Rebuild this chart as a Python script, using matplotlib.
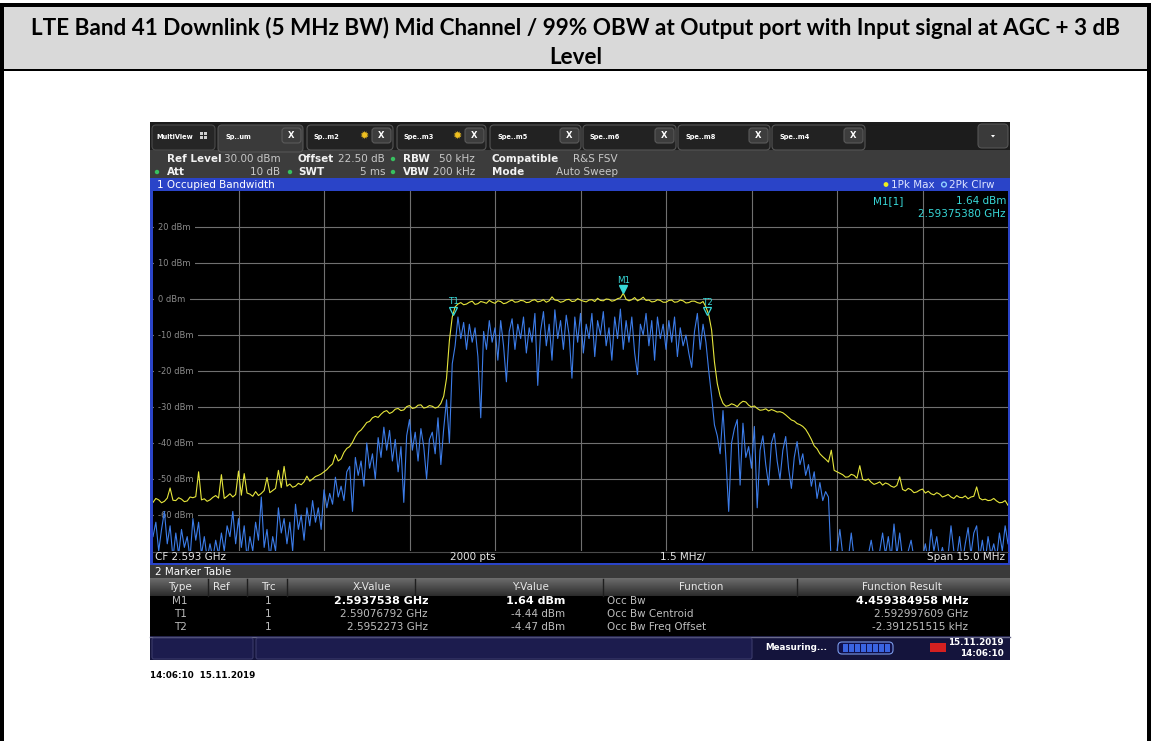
import numpy as np
import matplotlib
matplotlib.use("Agg")
import matplotlib.pyplot as plt
from matplotlib.patches import Rectangle, FancyBboxPatch, Circle, Polygon
from matplotlib.colors import LinearSegmentedColormap
from matplotlib.transforms import offset_copy

# ---- data ----
title_lines = ["LTE Band 41 Downlink (5 MHz BW) Mid Channel / 99% OBW at Output port with Input signal at AGC + 3 dB",
               "Level"]

cf_ghz = 2.593
span_mhz = 15.0
ref_level = 30
bottom_level = -70
level_ticks = [20, 10, 0, -10, -20, -30, -40, -50, -60]

# trace 1 (1Pk Max, yellow), dBm, evenly spaced over the span
trace1 = [
    -56.5, -55.4, -55.8, -56.6, -56.2, -55.3, -52.5, -55.9, -56.0, -55.2,
    -55.6, -56.3, -56.1, -55.0, -55.2, -54.9, -48.0, -55.8, -55.5, -56.2,
    -55.8, -55.1, -54.6, -55.3, -48.8, -55.4, -54.8, -54.1, -55.0, -54.3,
    -47.8, -54.5, -48.5, -53.9, -54.2, -54.8, -53.5, -54.6, -54.0, -53.2,
    -49.6, -53.8, -53.2, -52.6, -47.6, -52.4, -46.5, -52.0, -51.4, -52.3,
    -52.0, -51.2, -51.6, -50.8, -49.2, -50.6, -50.0, -49.3, -49.0, -48.6,
    -48.0, -47.4, -46.5, -45.8, -43.2, -45.0, -44.4, -42.6, -41.5, -41.0,
    -39.8, -38.2, -37.0, -36.4, -35.4, -34.3, -34.0, -33.0, -32.6, -32.9,
    -32.0, -31.3, -31.0, -31.8, -31.4, -30.6, -30.4, -31.0, -30.8, -29.9,
    -29.6, -30.4, -30.2, -29.5, -29.4, -30.3, -30.1, -29.6, -29.8, -30.3,
    -30.0, -29.0, -27.0, -22.0, -11.5, -5.0, -2.2, -1.4, -1.0, -1.6,
    -1.4, -0.9, -0.6, -1.5, -1.3, -0.7, -0.9, -1.2, -0.4, -0.9,
    -1.2, -0.5, -0.7, -1.3, -1.1, -0.6, -0.3, -0.9, -0.8, -0.4,
    -0.5, -1.0, -0.9, -0.4, -0.2, -0.8, -0.6, -0.2, -0.9, -0.5,
    0.6, -0.3, -0.4, -0.9, -0.7, -0.2, -0.1, -0.7, -0.6, 0.1,
    -0.3, -0.6, -0.8, -0.3, -0.2, -0.7, 0.2, -0.4, -0.5, 0.0,
    -0.1, -0.6, -0.4, 0.1, 0.3, 1.6, -0.1, -0.5, -0.2, 0.4,
    -0.5, -0.1, 0.5, -0.4, -0.3, -0.8, -0.7, -0.2, -0.4, -0.9,
    -0.9, -0.4, -0.3, -0.9, -0.8, -0.3, -0.5, -1.1, -1.0, -0.6,
    -0.6, -1.0, -1.2, -0.7, -2.2, -4.4, -8.6, -17.5, -23.5, -27.0,
    -29.0, -29.8, -29.6, -29.1, -29.4, -29.9, -29.0, -28.4, -28.6, -29.5,
    -30.0, -29.7, -30.4, -30.9, -30.8, -30.5, -31.1, -30.7, -31.0, -31.4,
    -31.3, -31.6, -32.2, -32.9, -33.6, -33.9, -34.6, -34.9, -35.4, -36.2,
    -37.5, -39.0, -40.8, -41.6, -43.0, -43.8, -44.5, -45.3, -42.0, -47.6,
    -48.0, -48.4, -48.8, -49.5, -49.4, -48.7, -49.0, -49.8, -46.3, -50.1,
    -50.4, -50.0, -50.9, -51.5, -51.2, -50.8, -51.7, -51.1, -51.4, -52.0,
    -52.3, -51.8, -49.4, -52.9, -53.3, -52.6, -53.0, -53.8, -53.6, -53.1,
    -52.8, -53.9, -53.4, -54.1, -54.4, -53.8, -54.2, -55.0, -54.7, -54.3,
    -55.0, -55.4, -54.6, -55.1, -55.2, -54.7, -55.5, -55.0, -54.8, -52.2,
    -55.3, -55.8, -55.6, -56.0, -55.9, -55.4, -56.1, -56.6, -56.5, -56.0,
    -57.3]

# trace 2 (2Pk Clrw, blue), dBm, evenly spaced over the span
trace2 = [
    -66, -62, -70, -64, -59, -68, -63, -72, -65, -71,
    -64, -69, -66, -72, -61, -67, -62, -71, -66, -72,
    -68, -72, -67, -71, -65, -70, -63, -66, -59, -68,
    -61, -69, -63, -72, -66, -70, -62, -67, -55, -69,
    -64, -72, -66, -70, -58, -65, -61, -68, -62, -70,
    -57, -64, -60, -67, -58, -63, -56, -62, -58, -64,
    -53, -58, -54, -57, -49.5, -55, -52, -56, -48, -46.5,
    -59, -44, -49, -45, -52, -40, -47, -43, -50, -38.5,
    -44, -35.6, -42, -36.5, -45, -39, -48, -41, -56.5, -38,
    -33.5, -42, -37, -45, -36, -41, -50, -39, -37, -43,
    -33, -46, -36, -28, -40, -18, -13, -5, -11, -6.5,
    -14, -7, -12, -8, -16, -33, -9, -14, -6, -12,
    -8, -17, -6, -13, -23, -9, -5.5, -14, -7, -11,
    -5, -15, -8, -12, -4, -24, -9, -3.5, -13, -7,
    -17, -3, -11, -6, -14, -4.5, -10, -22, -5, -12,
    -4, -15, -7, -11, -4, -16, -6, -10, -3.5, -13,
    -8, -17, -5, -11, -2.8, -14, -6, -12, -5, -15,
    -21, -7, -10, -4, -13, -6, -17, -5, -11, -7,
    -14, -6, -12, -5, -16, -8, -13, -10, -15, -19,
    -9, -4, -14, -7, -12, -20, -27, -35, -38, -43,
    -31, -44, -59, -40, -36, -33.5, -51.7, -34.5, -44, -41,
    -47, -35.4, -58, -42, -38, -46, -51.7, -40, -37.3, -45,
    -50, -42, -38.2, -47, -52.6, -44, -39.6, -46, -43, -49,
    -46, -52, -48, -55.4, -51, -56, -53.5, -55, -74, -72,
    -70, -64, -71, -73, -72, -65, -72, -74, -73, -72,
    -74, -71, -67, -72, -74, -70, -65, -71, -66, -72,
    -62.5, -71, -65, -72, -74, -70, -67, -72, -74, -71,
    -72, -68, -73, -64, -70, -66, -72, -69, -73, -71,
    -63, -70, -72, -66, -73, -68, -63.5, -71, -65, -63,
    -72, -67, -73, -66, -71, -68, -72, -65, -70, -63,
    -68]

marker_names = ["M1", "T1", "T2"]
marker_freq_ghz = [2.5937538, 2.59076792, 2.5952273]
marker_level = [1.64, -4.44, -4.47]
marker_x_text = ["2.5937538 GHz", "2.59076792 GHz", "2.5952273 GHz"]
marker_y_text = ["1.64 dBm", "-4.44 dBm", "-4.47 dBm"]
functions = ["Occ Bw", "Occ Bw Centroid", "Occ Bw Freq Offset"]
results = ["4.459384958 MHz", "2.592997609 GHz", "-2.391251515 kHz"]

tab_names = ["Sp..um", "Sp..m2", "Spe..m3", "Spe..m5", "Spe..m6", "Spe..m8", "Spe..m4"]
stamp = "14:06:10  15.11.2019"

# ---- figure, pixel canvas ----
W, H = 1152, 741
fig = plt.figure(figsize=(W / 100, H / 100), dpi=100)
bg = fig.add_axes([0, 0, 1, 1])
bg.set_xlim(0, W)
bg.set_ylim(H, 0)
bg.axis("off")

UI = "DejaVu Sans"


def rect(x0, y0, x1, y1, fc, ec="none", lw=0, z=1):
    bg.add_patch(Rectangle((x0, y0), x1 - x0, y1 - y0, fc=fc, ec=ec, lw=lw, zorder=z))


def rbox(x0, y0, x1, y1, fc, ec="none", lw=0.8, r=4, z=2):
    bg.add_patch(FancyBboxPatch((x0, y0), x1 - x0, y1 - y0,
                                boxstyle=f"round,pad=0,rounding_size={r}",
                                fc=fc, ec=ec, lw=lw, zorder=z))


def txt(x, y, s, size=7.5, color="white", ha="left", weight="normal", z=5):
    bg.text(x, y, s, fontsize=size, color=color, ha=ha, va="center",
            fontweight=weight, family=UI, zorder=z)


# title cell
rect(0, 3, 1151, 71, "#d9d9d9")
rect(0, 3, 1151, 7, "black")
rect(0, 69, 1151, 71, "black")
rect(0, 3, 4, H, "black")
rect(1147, 3, 1151, H, "black")
t1 = bg.text(W / 2, 28, title_lines[0], fontsize=14, fontweight="bold", family="Lato",
             ha="center", va="center", color="black")
t2 = bg.text(W / 2, 57, title_lines[1], fontsize=14, fontweight="bold", family="Lato",
             ha="center", va="center", color="black")
fig.canvas.draw()
fs = 14 * 1100 / t1.get_window_extent().width
t1.set_fontsize(fs)
t2.set_fontsize(fs)

# tab bar
rect(150, 122, 1010, 150, "#1c1c1c")
rbox(152, 125, 215, 150, "#262626", ec="#4a4a4a")
txt(156, 137, "MultiView", size=4.8, weight="bold")
for dx in (0, 4):
    for dy in (0, 4):
        rect(200 + dx, 132 + dy, 203 + dx, 135 + dy, "#d0d0d0", z=3)
tab_start = [218, 307, 397, 490, 583, 678, 772]
tab_end = [305, 395, 488, 583, 678, 772, 867]
for i, name in enumerate(tab_names):
    x0, x1 = tab_start[i], tab_end[i]
    fc = "#3a3a3a" if i == 0 else "#222222"
    rbox(x0, 125, x1 - 2, 152 if i == 0 else 150, fc, ec="#555555")
    txt(x0 + 7, 137, name, size=4.8, weight="bold")
    rbox(x1 - 23, 128, x1 - 4, 143, "#3d3d3d", ec="#5a5a5a", r=3, z=3)
    txt(x1 - 13.5, 135.5, "X", size=6, weight="bold", ha="center")
    if name in ("Sp..m2", "Spe..m3"):
        txt(x1 - 31, 136, "\u2739", size=8, color="#f0c020", ha="center")
rbox(978, 124, 1008, 148, "#3a3a3a", ec="#555555")
bg.add_patch(Polygon([[991, 135], [995, 135], [993, 137.5]], closed=True, fc="white", zorder=4))

# settings bar
rect(150, 150, 1010, 178, "#3c3c3c")
green = "#38c060"
for cx, cy in [(393, 159), (157, 172), (290, 172), (393, 172)]:
    bg.add_patch(Circle((cx, cy), 2.2, fc=green, ec="none", zorder=4))
lab, val = "#f2f2f2", "#c8c8c8"
txt(167, 159, "Ref Level", weight="bold", color=lab)
txt(224, 159, "30.00 dBm", color=val)
txt(298, 159, "Offset", weight="bold", color=lab)
txt(385, 159, "22.50 dB", color=val, ha="right")
txt(403, 159, "RBW", weight="bold", color=lab)
txt(475, 159, "50 kHz", color=val, ha="right")
txt(492, 159, "Compatible", weight="bold", color=lab)
txt(618, 159, "R&S FSV", color=val, ha="right")
txt(167, 172, "Att", weight="bold", color=lab)
txt(280, 172, "10 dB", color=val, ha="right")
txt(298, 172, "SWT", weight="bold", color=lab)
txt(385, 172, "5 ms", color=val, ha="right")
txt(403, 172, "VBW", weight="bold", color=lab)
txt(475, 172, "200 kHz", color=val, ha="right")
txt(492, 172, "Mode", weight="bold", color=lab)
txt(618, 172, "Auto Sweep", color=val, ha="right")

# window frame and title bar
blue_ui = "#2a44c8"
rect(150, 178, 1010, 191, blue_ui)
rect(150, 191, 153, 565, blue_ui)
rect(1008, 191, 1010, 565, blue_ui)
rect(150, 563, 1010, 565, blue_ui)
txt(157, 184.5, "1 Occupied Bandwidth", size=7.5)
bg.add_patch(Circle((886, 184.5), 2.4, fc="#f0f020", ec="none", zorder=4))
txt(891, 184.5, "1Pk Max", size=7.5, color="#dde4ff")
bg.add_patch(Circle((944, 184.5), 2.4, fc="none", ec="#8fd0ff", lw=1, zorder=4))
txt(949, 184.5, "2Pk Clrw", size=7.5, color="#dde4ff")

# bottom strip under the diagram
rect(153, 551, 1008, 563, "black")
bg.plot([153, 1008], [551.5, 551.5], color="#4a4a4a", lw=0.8, zorder=2)
txt(155, 557, f"CF {cf_ghz:.3f} GHz", size=7.5, color="#e6e6e6")
txt(450, 557, "2000 pts", size=7.5, color="#e6e6e6")
txt(660, 557, f"{span_mhz / 10:.1f} MHz/", size=7.5, color="#e6e6e6")
txt(1005, 557, f"Span {span_mhz:.1f} MHz", size=7.5, color="#e6e6e6", ha="right")

# marker table
rect(150, 565, 1010, 578, "#3a3a3a")
txt(155, 572, "2 Marker Table", size=7.5)
hdr = LinearSegmentedColormap.from_list("hdr", ["#6c6c6c", "#2c2c2c"])
bg.imshow(np.linspace(0, 1, 30).reshape(-1, 1), cmap=hdr, aspect="auto",
          extent=[150, 1010, 596, 578], zorder=1)
bg.set_xlim(0, W)
bg.set_ylim(H, 0)
for sx in [208, 247, 287, 415, 603, 797]:
    bg.plot([sx, sx], [579, 596], color="#1e1e1e", lw=1, zorder=2)
rect(150, 596, 1010, 636, "black")
hc = "#e8e8e8"
for x, s in [(180, "Type"), (221, "Ref"), (268, "Trc"), (372, "X-Value"),
             (530, "Y-Value"), (701, "Function"), (902, "Function Result")]:
    txt(x, 587.5, s, size=7.5, color=hc, ha="center")
row_y = [601, 614, 627]
for i in range(3):
    bold = "bold" if i == 0 else "normal"
    c = "white" if i == 0 else "#bdbdbd"
    txt(180, row_y[i], marker_names[i], color="#bdbdbd", ha="center")
    txt(268, row_y[i], "1", color="#bdbdbd", ha="center")
    txt(428, row_y[i], marker_x_text[i], color=c, ha="right", weight=bold, size=8 if i == 0 else 7.5)
    txt(565, row_y[i], marker_y_text[i], color=c, ha="right", weight=bold, size=8 if i == 0 else 7.5)
    txt(607, row_y[i], functions[i], color="#bdbdbd")
    txt(968, row_y[i], results[i], color=c, ha="right", weight=bold, size=8 if i == 0 else 7.5)

# status bar
rect(150, 636, 1010, 660, "#14143c")
bg.plot([150, 1010], [636.5, 636.5], color="#6a6a8a", lw=1, zorder=2)
rbox(152, 638, 253, 659, "#1c1c4e", ec="#3a3a6a", r=2)
rbox(256, 638, 752, 659, "#1c1c4e", ec="#3a3a6a", r=2)
txt(765, 648, "Measuring...", size=6.3, weight="bold")
rbox(838, 642, 893, 654, "#10104a", ec="#7a9ae8", r=4, z=3)
for k in range(8):
    rect(843 + k * 6, 644, 847.5 + k * 6, 652, "#3a64e0", z=4)
rect(930, 643, 946, 652, "#d42020", z=3)
txt(1004, 642.5, "15.11.2019", size=6.3, weight="bold", ha="right")
txt(1004, 653.5, "14:06:10", size=6.3, weight="bold", ha="right")

# timestamp under the screenshot
txt(150, 676, stamp, size=6.3, weight="bold", color="black")

# ---- diagram ----
ax = fig.add_axes([153 / W, 1 - 551 / H, 855 / W, 360 / H])
ax.set_facecolor("black")
ax.set_xlim(-span_mhz / 2, span_mhz / 2)
ax.set_ylim(bottom_level, ref_level)
ax.set_xticks(np.arange(-span_mhz / 2, span_mhz / 2 + 0.01, span_mhz / 10)[1:-1])
ax.set_yticks(level_ticks)
ax.grid(True, color="#707070", lw=0.8, zorder=1)
ax.set_axisbelow(True)
ax.tick_params(length=0, labelbottom=False, labelleft=False)
for sp in ax.spines.values():
    sp.set_visible(False)

blend = matplotlib.transforms.blended_transform_factory(ax.transAxes, ax.transData)
for v in level_ticks:
    ax.text(0.006, v, f"{v} dBm", transform=blend, fontsize=6, color="#8c8c8c",
            va="center", ha="left", family=UI, zorder=1.5,
            bbox=dict(fc="black", ec="none", pad=3))

f1 = np.linspace(-span_mhz / 2, span_mhz / 2, len(trace1))
f2 = np.linspace(-span_mhz / 2, span_mhz / 2, len(trace2))
ax.plot(f1, trace1, color="#e6e63c", lw=0.8, zorder=3)
ax.plot(f2, trace2, color="#3c7ce8", lw=0.8, zorder=4)

cyan = "#38d8d8"
tri = offset_copy(ax.transData, fig=fig, y=4, units="dots")
lbl = offset_copy(ax.transData, fig=fig, y=13, units="dots")
for i, name in enumerate(marker_names):
    off = (marker_freq_ghz[i] - cf_ghz) * 1000
    if name.startswith("M"):
        ax.plot(off, marker_level[i], marker="v", ms=6, color=cyan, mec=cyan,
                transform=tri, zorder=6)
    else:
        ax.plot(off, marker_level[i], marker="v", ms=5.5, mfc="none", mec=cyan,
                mew=0.9, transform=tri, zorder=6)
    ax.text(off, marker_level[i], name, transform=lbl, fontsize=6.3, color=cyan,
            ha="center", va="center", family=UI, zorder=6)

# marker readout in the upper right corner
ax.text(873, 201, "M1[1]", transform=bg.transData, fontsize=7.5, color=cyan,
        va="center", family=UI, zorder=7)
ax.text(1006, 201, f"{marker_level[0]:.2f} dBm", transform=bg.transData, fontsize=7.5,
        color=cyan, va="center", ha="right", family=UI, zorder=7)
ax.text(1006, 214, f"{marker_freq_ghz[0]:.8f} GHz", transform=bg.transData, fontsize=7.5,
        color=cyan, va="center", ha="right", family=UI, zorder=7)

fig.savefig("out.png", dpi=100)
